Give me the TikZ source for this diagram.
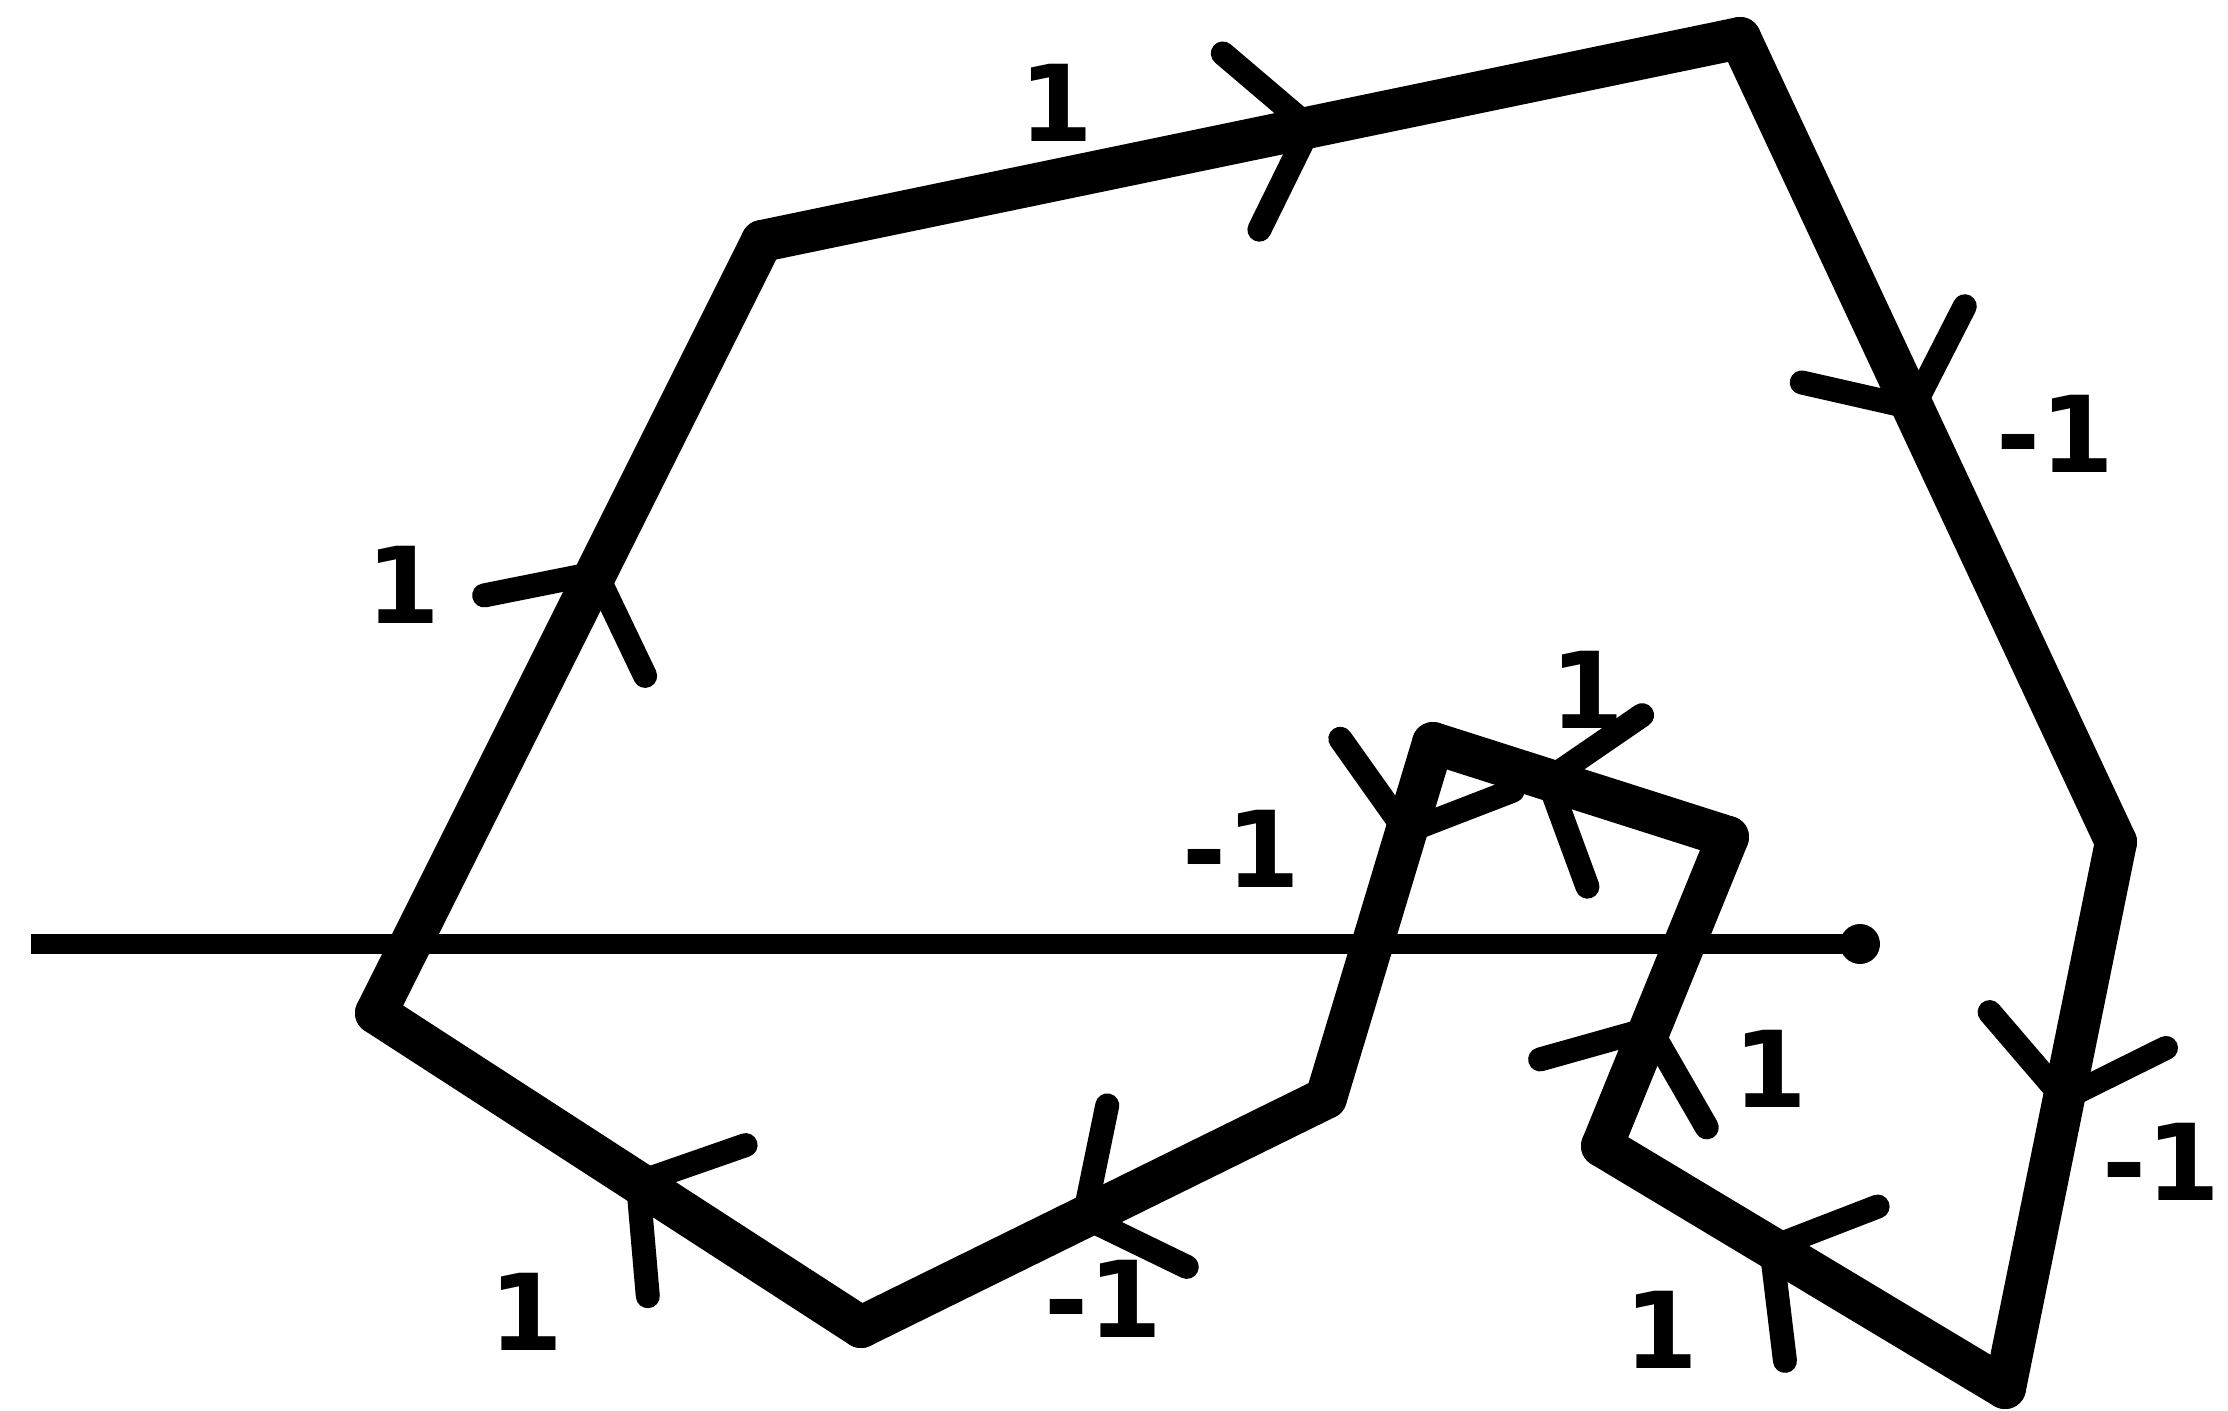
\documentclass[tikz,border=0pt]{standalone}
\usepackage{fontspec}
\setmainfont{DejaVu Sans}
\usetikzlibrary{decorations.markings}
\begin{document}
\begin{tikzpicture}[x=1pt,y=-1pt,
  edge/.style={line width=42pt, line cap=round, line join=round},
  chevron/.style={line width=24pt, line cap=round, line join=round},
  midarrow/.style={postaction={decorate}, decoration={markings,
     mark=at position #1 with {\draw[chevron] (-70pt,90pt) -- (0pt,0pt) -- (-70pt,-90pt);}}},
  axisline/.style={line width=20pt},
  lbl/.style={font=\fontsize{106}{120}\selectfont\bfseries, inner sep=0pt}
]
\useasboundingbox (0,0) rectangle (2228,1411);

% vertices of the closed path
\coordinate (A) at (376,1013);
\coordinate (B) at (762,241);
\coordinate (C) at (1740,38);
\coordinate (D) at (2116,842);
\coordinate (E) at (2005,1388);
\coordinate (F) at (1602,1146);
\coordinate (G) at (1728,837);
\coordinate (H) at (1433,743);
\coordinate (I) at (1326,1098);
\coordinate (J) at (861,1327);

% horizontal ray
\coordinate (L) at (31,944);
\coordinate (R) at (1860,944);
\draw[axisline] (L) -- (R);
\fill (R) circle (20pt);

% edges with direction marks
\draw[edge, midarrow=0.57] (A) -- (B);
\draw[edge, midarrow=0.56] (B) -- (C);
\draw[edge, midarrow=0.46] (C) -- (D);
\draw[edge, midarrow=0.47] (D) -- (E);
\draw[edge, midarrow=0.58] (E) -- (F);
\draw[edge, midarrow=0.38] (F) -- (G);
\draw[edge, midarrow=0.61] (G) -- (H);
\draw[edge, midarrow=0.25] (H) -- (I);
\draw[edge, midarrow=0.52] (I) -- (J);
\draw[edge, midarrow=0.46] (J) -- (A);

% labels
\node[lbl] (lAB) at (403,585) {1};
\node[lbl] (lBC) at (1056,103) {1};
\node[lbl] (lCD) at (2055,434) {-1};
\node[lbl, anchor=west] (lDE) at (2102,1162) {-1};
\node[lbl] (lEF) at (1661,1330) {1};
\node[lbl] (lFG) at (1770,1069) {1};
\node[lbl] (lGH) at (1587,690) {1};
\node[lbl] (lHI) at (1241,849) {-1};
\node[lbl] (lIJ) at (1103,1299) {-1};
\node[lbl] (lJA) at (526,1312) {1};
\end{tikzpicture}
\end{document}
